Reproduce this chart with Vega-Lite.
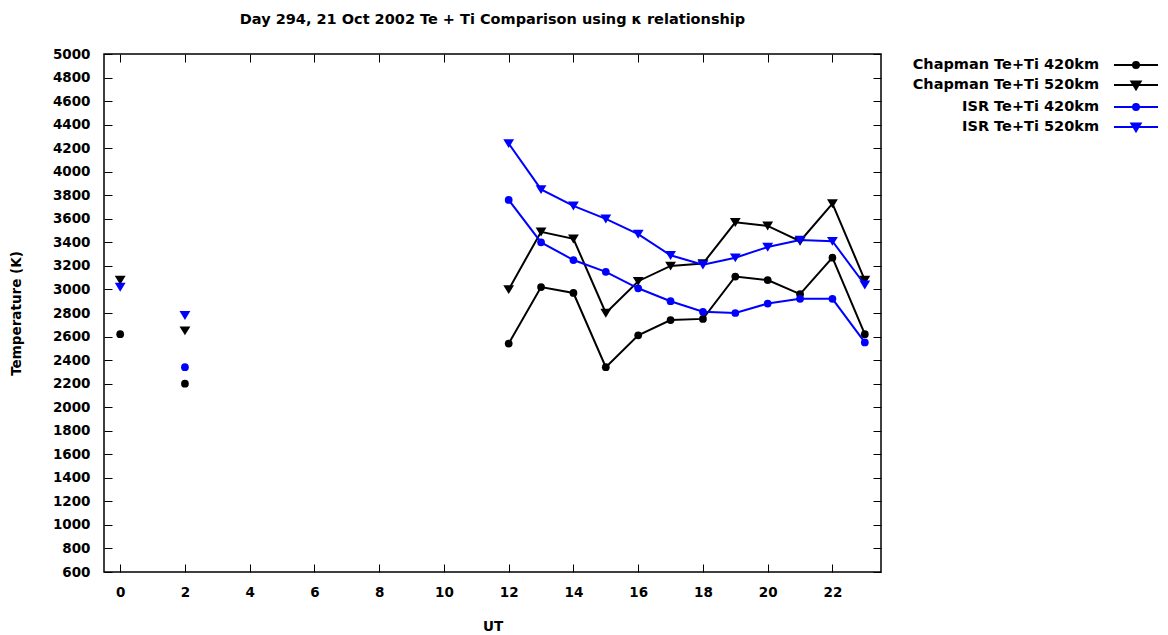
{
  "$schema": "https://vega.github.io/schema/vega-lite/v6.json",
  "width": 777,
  "height": 518,
  "autosize": "none",
  "padding": {"left": 104, "top": 54, "right": 287, "bottom": 63},
  "background": "white",
  "title": {
    "text": "Day 294, 21 Oct 2002 Te + Ti Comparison using κ relationship",
    "font": "DejaVu Sans",
    "fontSize": 14.5,
    "fontWeight": "bold",
    "color": "#000000",
    "anchor": "middle",
    "offset": 20
  },
  "config": {
    "view": {"stroke": "#000000", "strokeWidth": 1.5},
    "axis": {
      "grid": false,
      "domain": false,
      "tickColor": "#000000",
      "tickSize": -8,
      "tickWidth": 1,
      "labelFont": "DejaVu Sans",
      "labelFontSize": 13.5,
      "labelFontWeight": "bold",
      "labelColor": "#000000",
      "titleFont": "DejaVu Sans",
      "titleFontSize": 13.5,
      "titleFontWeight": "bold",
      "titleColor": "#000000",
      "format": "d"
    },
    "legend": {
      "title": null,
      "orient": "none",
      "legendX": 1021,
      "legendY": 0,
      "labelFont": "DejaVu Sans",
      "labelFontSize": 14.5,
      "labelFontWeight": "bold",
      "labelColor": "#000000",
      "labelAlign": "right",
      "labelOffset": -48,
      "symbolSize": 400,
      "symbolStrokeWidth": 2,
      "rowPadding": 2,
      "labelLimit": 400
    }
  },
  "data": {
    "values": [
      {"t": 0, "v": 2620, "s": "Chapman Te+Ti 420km", "g": "a"},
      {"t": 2, "v": 2200, "s": "Chapman Te+Ti 420km", "g": "b"},
      {"t": 12, "v": 2540, "s": "Chapman Te+Ti 420km", "g": "c"},
      {"t": 13, "v": 3020, "s": "Chapman Te+Ti 420km", "g": "c"},
      {"t": 14, "v": 2970, "s": "Chapman Te+Ti 420km", "g": "c"},
      {"t": 15, "v": 2340, "s": "Chapman Te+Ti 420km", "g": "c"},
      {"t": 16, "v": 2610, "s": "Chapman Te+Ti 420km", "g": "c"},
      {"t": 17, "v": 2740, "s": "Chapman Te+Ti 420km", "g": "c"},
      {"t": 18, "v": 2750, "s": "Chapman Te+Ti 420km", "g": "c"},
      {"t": 19, "v": 3110, "s": "Chapman Te+Ti 420km", "g": "c"},
      {"t": 20, "v": 3080, "s": "Chapman Te+Ti 420km", "g": "c"},
      {"t": 21, "v": 2960, "s": "Chapman Te+Ti 420km", "g": "c"},
      {"t": 22, "v": 3270, "s": "Chapman Te+Ti 420km", "g": "c"},
      {"t": 23, "v": 2620, "s": "Chapman Te+Ti 420km", "g": "c"},
      {"t": 0, "v": 3080, "s": "Chapman Te+Ti 520km", "g": "a"},
      {"t": 2, "v": 2650, "s": "Chapman Te+Ti 520km", "g": "b"},
      {"t": 12, "v": 3000, "s": "Chapman Te+Ti 520km", "g": "c"},
      {"t": 13, "v": 3490, "s": "Chapman Te+Ti 520km", "g": "c"},
      {"t": 14, "v": 3430, "s": "Chapman Te+Ti 520km", "g": "c"},
      {"t": 15, "v": 2800, "s": "Chapman Te+Ti 520km", "g": "c"},
      {"t": 16, "v": 3070, "s": "Chapman Te+Ti 520km", "g": "c"},
      {"t": 17, "v": 3200, "s": "Chapman Te+Ti 520km", "g": "c"},
      {"t": 18, "v": 3220, "s": "Chapman Te+Ti 520km", "g": "c"},
      {"t": 19, "v": 3570, "s": "Chapman Te+Ti 520km", "g": "c"},
      {"t": 20, "v": 3540, "s": "Chapman Te+Ti 520km", "g": "c"},
      {"t": 21, "v": 3410, "s": "Chapman Te+Ti 520km", "g": "c"},
      {"t": 22, "v": 3730, "s": "Chapman Te+Ti 520km", "g": "c"},
      {"t": 23, "v": 3080, "s": "Chapman Te+Ti 520km", "g": "c"},
      {"t": 2, "v": 2340, "s": "ISR Te+Ti 420km", "g": "b"},
      {"t": 12, "v": 3760, "s": "ISR Te+Ti 420km", "g": "c"},
      {"t": 13, "v": 3400, "s": "ISR Te+Ti 420km", "g": "c"},
      {"t": 14, "v": 3250, "s": "ISR Te+Ti 420km", "g": "c"},
      {"t": 15, "v": 3150, "s": "ISR Te+Ti 420km", "g": "c"},
      {"t": 16, "v": 3010, "s": "ISR Te+Ti 420km", "g": "c"},
      {"t": 17, "v": 2900, "s": "ISR Te+Ti 420km", "g": "c"},
      {"t": 18, "v": 2810, "s": "ISR Te+Ti 420km", "g": "c"},
      {"t": 19, "v": 2800, "s": "ISR Te+Ti 420km", "g": "c"},
      {"t": 20, "v": 2880, "s": "ISR Te+Ti 420km", "g": "c"},
      {"t": 21, "v": 2920, "s": "ISR Te+Ti 420km", "g": "c"},
      {"t": 22, "v": 2920, "s": "ISR Te+Ti 420km", "g": "c"},
      {"t": 23, "v": 2550, "s": "ISR Te+Ti 420km", "g": "c"},
      {"t": 0, "v": 3020, "s": "ISR Te+Ti 520km", "g": "a"},
      {"t": 2, "v": 2780, "s": "ISR Te+Ti 520km", "g": "b"},
      {"t": 12, "v": 4240, "s": "ISR Te+Ti 520km", "g": "c"},
      {"t": 13, "v": 3850, "s": "ISR Te+Ti 520km", "g": "c"},
      {"t": 14, "v": 3710, "s": "ISR Te+Ti 520km", "g": "c"},
      {"t": 15, "v": 3600, "s": "ISR Te+Ti 520km", "g": "c"},
      {"t": 16, "v": 3470, "s": "ISR Te+Ti 520km", "g": "c"},
      {"t": 17, "v": 3290, "s": "ISR Te+Ti 520km", "g": "c"},
      {"t": 18, "v": 3210, "s": "ISR Te+Ti 520km", "g": "c"},
      {"t": 19, "v": 3270, "s": "ISR Te+Ti 520km", "g": "c"},
      {"t": 20, "v": 3360, "s": "ISR Te+Ti 520km", "g": "c"},
      {"t": 21, "v": 3420, "s": "ISR Te+Ti 520km", "g": "c"},
      {"t": 22, "v": 3410, "s": "ISR Te+Ti 520km", "g": "c"},
      {"t": 23, "v": 3040, "s": "ISR Te+Ti 520km", "g": "c"}
    ]
  },
  "resolve": {"axis": {"x": "independent", "y": "independent"}},
  "layer": [
    {
      "mark": {"type": "line", "strokeWidth": 2},
      "encoding": {
        "x": {"field": "t", "type": "quantitative", "scale": {"domain": [-0.5, 23.5], "nice": false, "zero": false},
          "axis": {"title": "UT", "values": [0, 2, 4, 6, 8, 10, 12, 14, 16, 18, 20, 22], "labelPadding": 21, "titlePadding": 21}},
        "y": {"field": "v", "type": "quantitative", "scale": {"domain": [600, 5000], "nice": false, "zero": false},
          "axis": {"title": "Temperature (K)", "values": [600, 800, 1000, 1200, 1400, 1600, 1800, 2000, 2200, 2400, 2600, 2800, 3000, 3200, 3400, 3600, 3800, 4000, 4200, 4400, 4600, 4800, 5000], "labelPadding": 22, "titlePadding": 29}},
        "color": {"field": "s", "type": "nominal",
          "scale": {"domain": ["Chapman Te+Ti 420km", "Chapman Te+Ti 520km", "ISR Te+Ti 420km", "ISR Te+Ti 520km"], "range": ["#000000", "#000000", "#0000ff", "#0000ff"]},
          "legend": {
            "encode": {
              "symbols": {
                "update": {
                  "shape": {"signal": "indexof(datum.value, '420') >= 0 ? 'M-2.2,0L2.2,0M-0.3,0A0.3,0.3,0,1,0,0.3,0A0.3,0.3,0,1,0,-0.3,0Z' : 'M-2.2,0L2.2,0M-0.46,-0.35L0.46,-0.35L0,0.42Z'"},
                  "stroke": {"signal": "indexof(datum.value, 'ISR') >= 0 ? '#0000ff' : '#000000'"},
                  "fill": {"signal": "indexof(datum.value, 'ISR') >= 0 ? '#0000ff' : '#000000'"},
                  "strokeWidth": {"value": 2},
                  "opacity": {"value": 1}
                }
              }
            }
          }},
        "detail": {"field": "g"}
      }
    },
    {
      "transform": [{"filter": {"field": "s", "oneOf": ["Chapman Te+Ti 420km", "ISR Te+Ti 420km"]}}],
      "mark": {"type": "point", "filled": true, "opacity": 1, "size": 60, "shape": "circle"},
      "encoding": {
        "x": {"field": "t", "type": "quantitative", "axis": null},
        "y": {"field": "v", "type": "quantitative", "axis": null},
        "color": {"field": "s", "type": "nominal",
          "legend": {
            "encode": {
              "symbols": {
                "update": {
                  "shape": {"signal": "indexof(datum.value, '420') >= 0 ? 'M-2.2,0L2.2,0M-0.3,0A0.3,0.3,0,1,0,0.3,0A0.3,0.3,0,1,0,-0.3,0Z' : 'M-2.2,0L2.2,0M-0.46,-0.35L0.46,-0.35L0,0.42Z'"},
                  "stroke": {"signal": "indexof(datum.value, 'ISR') >= 0 ? '#0000ff' : '#000000'"},
                  "fill": {"signal": "indexof(datum.value, 'ISR') >= 0 ? '#0000ff' : '#000000'"},
                  "strokeWidth": {"value": 2},
                  "opacity": {"value": 1}
                }
              }
            }
          }}
      }
    },
    {
      "transform": [{"filter": {"field": "s", "oneOf": ["Chapman Te+Ti 520km", "ISR Te+Ti 520km"]}}],
      "mark": {"type": "point", "filled": true, "opacity": 1, "size": 60, "shape": "M-1.4,-1.1L1.4,-1.1L0,1.2Z"},
      "encoding": {
        "x": {"field": "t", "type": "quantitative", "axis": null},
        "y": {"field": "v", "type": "quantitative", "axis": null},
        "color": {"field": "s", "type": "nominal",
          "legend": {
            "encode": {
              "symbols": {
                "update": {
                  "shape": {"signal": "indexof(datum.value, '420') >= 0 ? 'M-2.2,0L2.2,0M-0.3,0A0.3,0.3,0,1,0,0.3,0A0.3,0.3,0,1,0,-0.3,0Z' : 'M-2.2,0L2.2,0M-0.46,-0.35L0.46,-0.35L0,0.42Z'"},
                  "stroke": {"signal": "indexof(datum.value, 'ISR') >= 0 ? '#0000ff' : '#000000'"},
                  "fill": {"signal": "indexof(datum.value, 'ISR') >= 0 ? '#0000ff' : '#000000'"},
                  "strokeWidth": {"value": 2},
                  "opacity": {"value": 1}
                }
              }
            }
          }}
      }
    },
    {
      "mark": {"type": "point", "opacity": 0},
      "encoding": {
        "x": {"field": "t", "type": "quantitative",
          "axis": {"orient": "top", "title": null, "labels": false, "values": [0, 2, 4, 6, 8, 10, 12, 14, 16, 18, 20, 22]}},
        "y": {"field": "v", "type": "quantitative",
          "axis": {"orient": "right", "title": null, "labels": false, "values": [600, 800, 1000, 1200, 1400, 1600, 1800, 2000, 2200, 2400, 2600, 2800, 3000, 3200, 3400, 3600, 3800, 4000, 4200, 4400, 4600, 4800, 5000]}}
      }
    }
  ]
}
